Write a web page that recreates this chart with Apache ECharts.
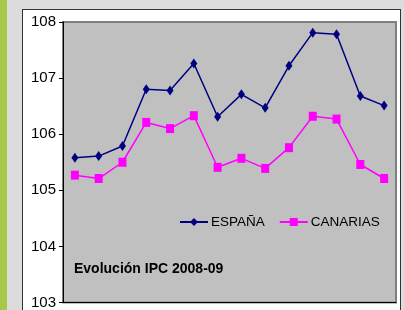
<!DOCTYPE html>
<html>
<head>
<meta charset="utf-8">
<script src="https://cdn.jsdelivr.net/npm/echarts@6/dist/echarts.min.js"></script>
<style>
html,body{margin:0;padding:0;width:404px;height:310px;overflow:hidden;background:#dcdcdc;}
#strip{position:absolute;left:0;top:0;width:7px;height:310px;background:#a6c94a;}
#frame{position:absolute;left:22px;top:9px;width:379px;height:310px;background:#ffffff;border:1px solid #333333;box-sizing:border-box;}
#chart{position:absolute;left:0;top:0;width:404px;height:310px;}
</style>
</head>
<body>
<div id="strip"></div>
<div id="frame"></div>
<div id="chart"></div>
<script>
var categories = ['1','2','3','4','5','6','7','8','9','10','11','12','13','14'];
var espana = [105.58, 105.61, 105.79, 106.80, 106.78, 107.26, 106.31, 106.71, 106.47, 107.22, 107.81, 107.78, 106.68, 106.51];
var canarias = [105.27, 105.21, 105.50, 106.21, 106.10, 106.33, 105.41, 105.57, 105.39, 105.76, 106.32, 106.27, 105.46, 105.21];
var yTicks = {min: 103, max: 108, interval: 1};
var titleText = 'Evolución IPC 2008-09';
var seriesNames = ['ESPAÑA', 'CANARIAS'];

var FONT = '"Liberation Sans", Arial, sans-serif';
var chart = echarts.init(document.getElementById('chart'), null, {renderer: 'canvas'});
chart.setOption({
  animation: false,
  backgroundColor: 'transparent',
  title: {
    text: titleText,
    left: 74, top: 262, padding: 0,
    textStyle: {fontFamily: FONT, fontWeight: 'bold', fontSize: 14, color: '#000'}
  },
  legend: {
    data: seriesNames,
    left: 179, top: 215, padding: 0, width: 220,
    itemWidth: 28, itemHeight: 10, itemGap: 14,
    textStyle: {fontFamily: FONT, fontSize: 13.5, color: '#000', padding: [0,0,0,-2]}
  },
  grid: {
    left: 63, right: 8, top: 22, bottom: 6,
    show: true, backgroundColor: '#c0c0c0', borderColor: '#808080', borderWidth: 2
  },
  xAxis: {
    type: 'category', data: categories, boundaryGap: true,
    axisLine: {show: true, lineStyle: {color: '#000', width: 1}},
    axisTick: {show: false}, axisLabel: {show: false}, splitLine: {show: false}
  },
  yAxis: {
    type: 'value', min: yTicks.min, max: yTicks.max, interval: yTicks.interval,
    axisLine: {show: true, lineStyle: {color: '#000', width: 1}},
    axisTick: {show: true, length: 4, lineStyle: {color: '#000'}},
    axisLabel: {fontFamily: FONT, fontSize: 15, color: '#000', margin: 7},
    splitLine: {show: false}
  },
  series: [
    {
      name: seriesNames[0], type: 'line', data: espana,
      symbol: 'diamond', symbolSize: [7, 10],
      lineStyle: {color: '#000080', width: 1.5},
      itemStyle: {color: '#000080'}
    },
    {
      name: seriesNames[1], type: 'line', data: canarias,
      symbol: 'rect', symbolSize: [8, 9],
      lineStyle: {color: '#ff00ff', width: 1.5},
      itemStyle: {color: '#ff00ff'}
    }
  ]
});
</script>
</body>
</html>
